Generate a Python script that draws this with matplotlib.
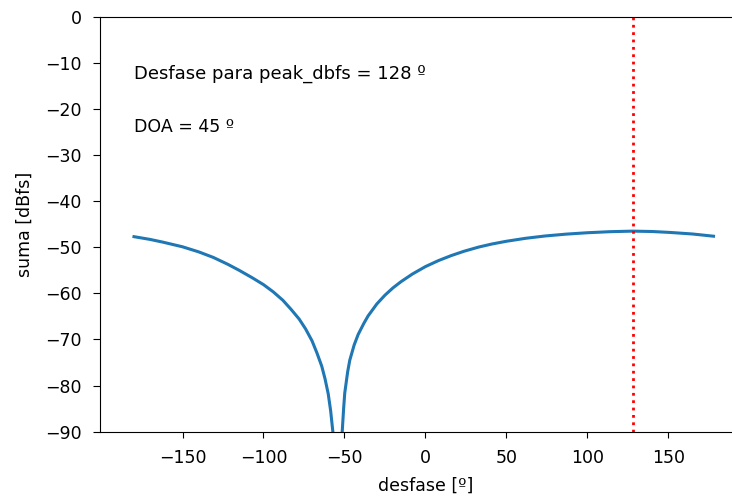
import matplotlib
matplotlib.use('Agg')
import matplotlib.pyplot as plt

# phase sweep (deg) and summed level (dBFS)
desfase = [-180, -170, -162, -150, -140, -131, -122, -115, -107, -100,
           -94, -88, -83, -78, -74, -70, -67, -64, -62, -60,
           -58.5, -57, -54, -51.4, -50.5, -49.8, -48, -46.7, -44, -41.5,
           -38, -35.4, -30, -25, -20, -15, -8, 0, 8, 16,
           24, 33, 41, 50, 62, 74, 87, 100, 114, 128,
           140, 151, 165, 178]
suma = [-47.7, -48.3, -48.9, -49.9, -51.0, -52.2, -53.7, -55.0, -56.6, -58.1,
        -59.66, -61.5, -63.45, -65.55, -67.7, -70.3, -72.9, -75.8, -78.5, -81.8,
        -85.5, -90.5, -100.0, -90.2, -85.0, -81.6, -77.0, -74.5, -71.2, -68.9,
        -66.5, -64.9, -62.3, -60.4, -58.8, -57.45, -55.8, -54.2, -52.9, -51.8,
        -50.85, -49.95, -49.3, -48.7, -48.05, -47.55, -47.15, -46.85, -46.62, -46.5,
        -46.58, -46.78, -47.12, -47.6]
peak_desfase = 128
doa = 45

plt.rcParams['font.size'] = 12.5

fig = plt.figure(figsize=(7.32, 4.96), dpi=100)
ax = fig.add_axes([0.1366, 0.1296, 0.889, 0.8367])

ax.plot(desfase, suma, color='tab:blue', lw=2.2)
ax.axvline(peak_desfase, color='red', ls=':', lw=2)

ax.text(-180, -13.4, 'Desfase para peak_dbfs = {} º'.format(peak_desfase), fontsize=13)
ax.text(-180, -24.9, 'DOA = {} º'.format(doa), fontsize=12.5)

ax.set_xlim(-201, 201)
ax.set_ylim(-90, 0)
ax.set_xticks([-150, -100, -50, 0, 50, 100, 150])
ax.set_yticks(range(-90, 1, 10))
ax.tick_params(axis='y', length=5, pad=8)
ax.tick_params(axis='x', length=4.2, pad=8)
ax.spines['right'].set_visible(False)
ax.set_xlabel('desfase [º]', labelpad=7)
ax.set_ylabel('suma [dBfs]', labelpad=8)

fig.savefig('out.png', dpi=100)
